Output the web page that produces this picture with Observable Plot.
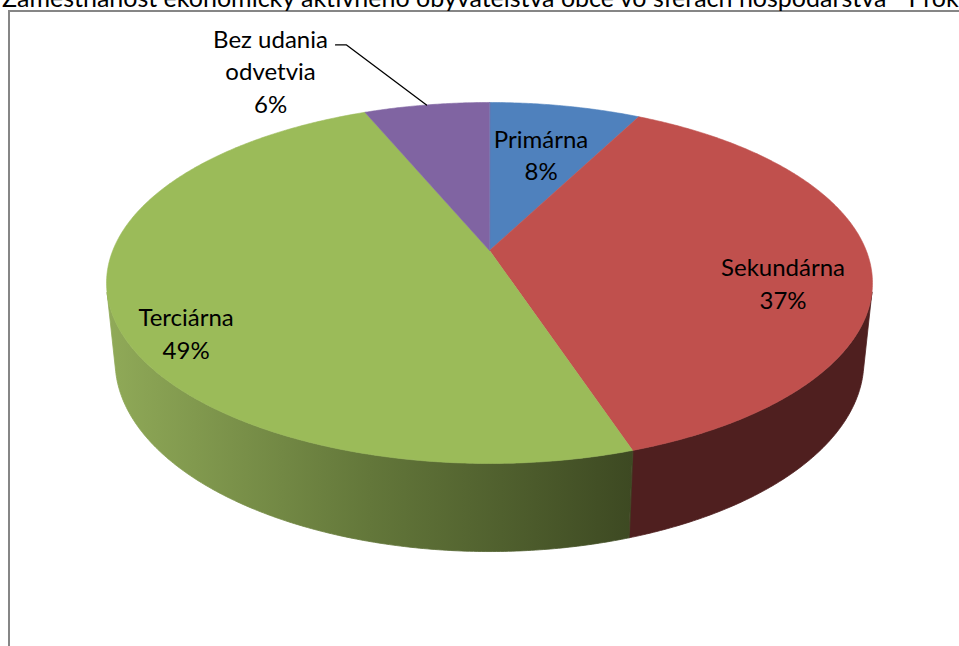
<!DOCTYPE html>
<html><head><meta charset="utf-8">
<script src="https://cdn.jsdelivr.net/npm/d3@7"></script>
<script src="https://cdn.jsdelivr.net/npm/@observablehq/plot@0.6"></script>
<style>
html,body{margin:0;padding:0;background:#fff;overflow:hidden;width:959px;height:646px;}
#title{position:absolute;left:2px;top:-15px;font:25px Lato, sans-serif;white-space:nowrap;color:#000;line-height:25px;}
#frame{position:absolute;left:8px;top:10px;width:1100px;height:800px;border:2px solid #868686;box-sizing:border-box;}
#chart{position:absolute;left:0;top:0;}
</style></head><body>
<div id="frame"></div>
<div id="title">Zamestnanosť ekonomicky aktívneho obyvateľstva obce vo sférach hospodárstva - Prokt</div>
<div id="chart"></div>
<script>
// ---- data ----
const categories = ["Primárna", "Sekundárna", "Terciárna", "Bez udania odvetvia"];
const values = [7.6, 37.3, 48.8, 6.3];
const labelNames = ["Primárna", "Sekundárna", "Terciárna", "Bez udania\nodvetvia"];

// ---- styles ----
const topColors = ["#4f81bd", "#c0504d", "#9bbb59", "#8064a2"];
const wallColors = ["#2c4a6e", "#4f1f1f", "url(#greenWall)", "#4a3a5e"];
const labelLayout = [
  {r: 0.7, dx: -4, dy: 9},
  {r: 0.7, dx: 28, dy: 22},
  {r: 0.7, dx: -45, dy: 37},
  {r: 1.0, dx: -156, dy: -35}
];

// ---- 3D perspective geometry ----
const W = 959, H = 646;
const phi = 27.62 * Math.PI / 180;
const cphi = Math.cos(phi), sphi = Math.sin(phi);
const D = 5.556 * cphi, f = 2093 * cphi, cx = 489, cy = 250, thick = 0.2364;
function proj(theta, r, h) {
  const x = r * Math.sin(theta), z = -r * Math.cos(theta);
  const up = h * cphi - z * sphi;
  const depth = D - (h * sphi + z * cphi);
  return {x: cx + f * x / depth, y: cy - f * up / depth};
}
const total = d3.sum(values);
let acc = 0;
const slices = values.map((v, i) => {
  const a0 = acc / total * 2 * Math.PI;
  acc += v;
  const a1 = acc / total * 2 * Math.PI;
  return {i, a0, a1, mid: (a0 + a1) / 2, v};
});
function arc(a0, a1, r, h) {
  const n = Math.max(2, Math.ceil((a1 - a0) / (Math.PI / 360)));
  return d3.range(n + 1).map(k => proj(a0 + (a1 - a0) * k / n, r, h));
}
// visible outer wall range
const th0 = Math.acos(-1 / (D * cphi));
const vis0 = th0, vis1 = 2 * Math.PI - th0;

const marks = [];
// walls
for (const s of slices) {
  const a0 = Math.max(s.a0, vis0), a1 = Math.min(s.a1, vis1);
  if (a1 <= a0) continue;
  const pts = arc(a0, a1, 1, 0).concat(arc(a0, a1, 1, -thick).reverse());
  marks.push(Plot.line(pts, {x: "x", y: "y", curve: "linear-closed", fill: wallColors[s.i], stroke: wallColors[s.i], strokeWidth: 0.8}));
}
// top faces
for (const s of slices) {
  const pts = [proj(0, 0, 0)].concat(arc(s.a0, s.a1, 1, 0));
  marks.push(Plot.line(pts, {x: "x", y: "y", curve: "linear-closed", fill: topColors[s.i], stroke: topColors[s.i], strokeWidth: 0.6}));
}
// labels
const labels = slices.map(s => {
  const L = labelLayout[s.i];
  const p = proj(s.mid, L.r, 0);
  return {x: p.x + L.dx, y: p.y + L.dy, text: labelNames[s.i] + "\n" + Math.round(s.v / total * 100) + "%"};
});
// leader line for the last (outside) label
const last = slices[slices.length - 1];
const e = proj(last.mid, 1, 0);
const leader = [e, {x: e.x - 80, y: e.y - 60}, {x: e.x - 91, y: e.y - 60}];
marks.push(Plot.line(leader, {x: "x", y: "y", stroke: "#000", strokeWidth: 1.3}));
marks.push(Plot.text(labels, {x: "x", y: "y", text: "text", fontSize: 24, fontFamily: "Lato", lineHeight: 1.36, textAnchor: "middle", lineAnchor: "middle", fill: "#000"}));

const svg = Plot.plot({
  width: W, height: H, margin: 0,
  x: {domain: [0, W], range: [0, W], axis: null},
  y: {domain: [0, H], range: [0, H], axis: null},
  style: {background: "transparent", overflow: "visible"},
  marks
});
const defs = d3.select(svg).insert("defs", ":first-child");
const g = defs.append("linearGradient").attr("id", "greenWall").attr("x1", 0).attr("x2", 1).attr("y1", 0).attr("y2", 0);
g.append("stop").attr("offset", 0).attr("stop-color", "#90aa58");
g.append("stop").attr("offset", 0.5).attr("stop-color", "#63773a");
g.append("stop").attr("offset", 1).attr("stop-color", "#3d4922");
document.getElementById("chart").appendChild(svg);
</script>
</body></html>
